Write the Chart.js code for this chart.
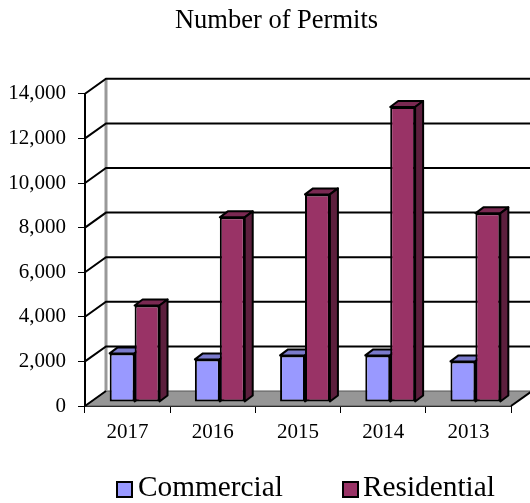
<!DOCTYPE html>
<html>
<head>
<meta charset="utf-8">
<title>Number of Permits</title>
<script src="https://cdn.jsdelivr.net/npm/chart.js@4"></script>
<style>
  html, body { margin: 0; padding: 0; background: #fff; }
  #wrap { position: relative; width: 530px; height: 503px; overflow: hidden; }
  .legend-box { position: absolute; top: 481px; width: 13px; height: 13px; border: 2px solid #000; }
  .legend-text { position: absolute; top: 470px; font: 29.3px/33px "Liberation Serif", serif; color: #000; white-space: nowrap; }
</style>
</head>
<body>
<div id="wrap">
  <canvas id="chart" width="530" height="503"></canvas>
  <div id="legend"></div>
</div>
<script>
'use strict';

/* ----- data ----- */
const years       = ['2017', '2016', '2015', '2014', '2013'];
const commercial  = [2180, 1910, 2090, 2090, 1820];
const residential = [4330, 8280, 9310, 13230, 8460];
const seriesNames = ['Commercial', 'Residential'];

/* ----- colours ----- */
const FRONT = ['#9999ff', '#993366'];
const TOP   = ['#7a7acc', '#7a2952'];
const SIDE  = ['#5c5c99', '#5c1f3d'];
const FONT  = '"Liberation Serif", serif';

/* wall depth, and how far the bars stand in from the front / how deep they are */
const WALL_DX = 21, WALL_DY = 15;
const BAR_DX = 7, BAR_DY = 4;
const DEPTH_DX = 8, DEPTH_DY = 6;
const TITLE_SHIFT = 21;

/* top and side faces of one series' bars */
function drawBarFaces(ctx, meta, i) {
  ctx.strokeStyle = '#000';
  ctx.lineWidth = 2;
  ctx.lineJoin = 'round';
  meta.data.forEach(bar => {
    const { x, y, base, width } = bar.getProps(['x', 'y', 'base', 'width'], true);
    const l = x - width / 2, r = x + width / 2;
    ctx.fillStyle = TOP[i];
    ctx.beginPath();
    ctx.moveTo(l, y);
    ctx.lineTo(l + DEPTH_DX, y - DEPTH_DY);
    ctx.lineTo(r + DEPTH_DX, y - DEPTH_DY);
    ctx.lineTo(r, y);
    ctx.closePath();
    ctx.fill();
    ctx.stroke();
    ctx.fillStyle = SIDE[i];
    ctx.beginPath();
    ctx.moveTo(r, y);
    ctx.lineTo(r + DEPTH_DX, y - DEPTH_DY);
    ctx.lineTo(r + DEPTH_DX, base - DEPTH_DY);
    ctx.lineTo(r, base);
    ctx.closePath();
    ctx.fill();
    ctx.stroke();
  });
}

const wallsPlugin = {
  id: 'walls',
  /* the title is centred a little right of the canvas middle */
  afterLayout(chart) {
    chart.titleBlock.left += TITLE_SHIFT;
    chart.titleBlock.right += TITLE_SHIFT;
  },
  /* back walls, floor and gridlines, drawn behind the bars */
  beforeDatasetsDraw(chart) {
    const { ctx, scales: { y }, chartArea: area, width } = chart;
    const left = area.left, right = area.right, base = y.getPixelForValue(0);
    ctx.save();

    ctx.beginPath();
    ctx.moveTo(left, base);
    ctx.lineTo(left + WALL_DX, base - WALL_DY);
    ctx.lineTo(right + WALL_DX, base - WALL_DY);
    ctx.lineTo(right, base);
    ctx.closePath();
    ctx.fillStyle = '#969696';
    ctx.fill();
    ctx.strokeStyle = '#555';
    ctx.lineWidth = 1;
    ctx.stroke();

    ctx.strokeStyle = '#999';
    ctx.lineWidth = 3;
    ctx.beginPath();
    ctx.moveTo(left + WALL_DX, y.getPixelForValue(y.max) - WALL_DY);
    ctx.lineTo(left + WALL_DX, base - WALL_DY);
    ctx.stroke();

    ctx.strokeStyle = '#000';
    ctx.lineWidth = 2;
    y.ticks.forEach(t => {
      const py = y.getPixelForValue(t.value);
      ctx.beginPath();
      ctx.moveTo(left, py);
      ctx.lineTo(left + WALL_DX, py - WALL_DY);
      if (t.value !== 0) ctx.lineTo(width, py - WALL_DY);
      ctx.stroke();
    });
    ctx.beginPath();
    ctx.moveTo(right, base);
    ctx.lineTo(right + WALL_DX, base - WALL_DY);
    ctx.stroke();
    ctx.restore();
  },
  /* Chart.js paints the first dataset last, but here the right-hand series must
     cover the left one's side face, so the normal pass is skipped */
  beforeDatasetDraw() {
    return false;
  },
  afterDatasetsDraw(chart) {
    const { ctx } = chart;
    ctx.save();
    ctx.translate(BAR_DX, -BAR_DY);
    chart.data.datasets.forEach((ds, i) => {
      const meta = chart.getDatasetMeta(i);
      drawBarFaces(ctx, meta, i);
      meta.controller.draw();
    });
    ctx.restore();
  },
};

const chart = new Chart(document.getElementById('chart'), {
  type: 'bar',
  data: {
    labels: years,
    datasets: [commercial, residential].map((values, i) => ({
      label: seriesNames[i],
      data: values,
      backgroundColor: FRONT[i],
      borderColor: '#000',
      borderWidth: 2,
      borderSkipped: false,
    })),
  },
  options: {
    responsive: false,
    animation: false,
    events: [],
    categoryPercentage: 0.585,
    barPercentage: 1,
    layout: { padding: { left: 0, right: 19, top: 0, bottom: 39 } },
    plugins: {
      legend: { display: false },
      tooltip: { enabled: false },
      title: {
        display: true,
        text: 'Number of Permits',
        color: '#000',
        font: { family: FONT, size: 26.5, weight: 'normal', lineHeight: 1.2 },
        padding: { top: 5, bottom: 57 },
      },
    },
    scales: {
      x: {
        afterFit(scale) { scale.height = 58; },
        border: { display: true, color: '#000', width: 2 },
        grid: { drawOnChartArea: false, drawTicks: true, tickLength: 7, tickColor: '#000', tickWidth: 1, offset: true },
        ticks: { color: '#000', font: { family: FONT, size: 21 }, padding: 7, maxRotation: 0 },
      },
      y: {
        min: 0,
        max: 14000,
        afterFit(scale) { scale.width = 85; },
        border: { display: true, color: '#000', width: 2 },
        grid: { drawOnChartArea: false, drawTicks: true, tickLength: 7, tickColor: '#000', tickWidth: 1 },
        ticks: {
          stepSize: 2000,
          color: '#000',
          font: { family: FONT, size: 21 },
          padding: 12,
          callback: v => v.toLocaleString('en-US'),
        },
      },
    },
  },
  plugins: [wallsPlugin],
});

/* legend sits tighter than the built-in one allows, so it is plain DOM */
const legendEl = document.getElementById('legend');
const legendX = [[116, 138], [342, 363]];
chart.data.datasets.forEach((ds, i) => {
  const box = document.createElement('div');
  box.className = 'legend-box';
  box.style.left = legendX[i][0] + 'px';
  box.style.background = ds.backgroundColor;
  const text = document.createElement('div');
  text.className = 'legend-text';
  text.style.left = legendX[i][1] + 'px';
  text.textContent = ds.label;
  legendEl.append(box, text);
});
</script>
</body>
</html>
